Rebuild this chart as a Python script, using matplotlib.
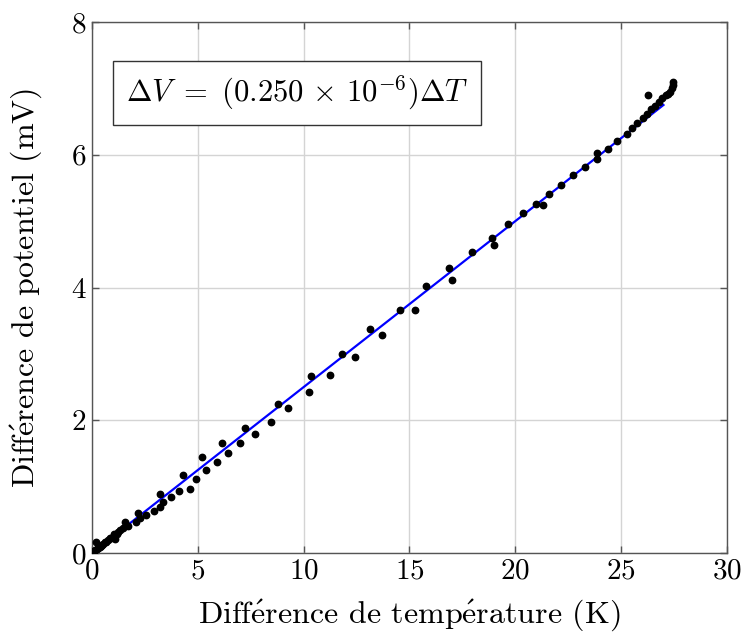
import numpy as np
import matplotlib
matplotlib.use("Agg")
import matplotlib.pyplot as plt

plt.rcParams['font.family'] = ['cmr10', 'DejaVu Serif']
plt.rcParams['mathtext.fontset'] = 'cm'
plt.rcParams['axes.formatter.use_mathtext'] = True

# measured points (K, mV)
delta_t = [0.00, 0.03, 0.06, 0.10, 0.15, 0.19, 0.22, 0.26, 0.30, 0.36, 0.42, 0.46,
           0.52, 0.61, 0.68, 0.75, 0.85, 0.92, 1.04, 1.09, 1.16, 1.24, 1.34, 1.48,
           1.54, 1.71, 2.06, 2.16, 2.28, 2.54, 2.93, 3.20, 3.20, 3.35, 3.72, 4.10,
           4.28, 4.61, 4.90, 5.20, 5.37, 5.89, 6.12, 6.44, 7.01, 7.23, 7.72, 8.44,
           8.77, 9.27, 10.25, 10.34, 11.24, 11.79, 12.41, 13.12, 13.70, 14.53,
           15.24, 15.78, 16.88, 17.01, 17.95, 18.88, 19.00, 19.67, 20.37, 20.97,
           21.30, 21.59, 22.17, 22.74, 23.27, 23.84, 23.87, 24.37, 24.80, 25.26,
           25.51, 25.73, 26.01, 26.20, 26.25, 26.39, 26.59, 26.78, 26.95, 27.11,
           27.22, 27.30, 27.38, 27.43, 27.46]
delta_v = [0.00, 0.01, 0.02, 0.03, 0.04, 0.16, 0.06, 0.07, 0.08, 0.09, 0.10, 0.12,
           0.13, 0.16, 0.17, 0.19, 0.22, 0.23, 0.28, 0.21, 0.29, 0.32, 0.34, 0.37,
           0.46, 0.40, 0.47, 0.61, 0.53, 0.58, 0.64, 0.89, 0.70, 0.77, 0.85, 0.94,
           1.17, 0.97, 1.12, 1.45, 1.25, 1.37, 1.65, 1.51, 1.65, 1.88, 1.80, 1.98,
           2.24, 2.19, 2.43, 2.66, 2.68, 3.00, 2.95, 3.37, 3.28, 3.66,
           3.66, 4.02, 4.30, 4.12, 4.53, 4.75, 4.64, 4.96, 5.12, 5.26,
           5.24, 5.41, 5.54, 5.69, 5.81, 5.94, 6.02, 6.08, 6.21, 6.32,
           6.40, 6.48, 6.55, 6.62, 6.90, 6.69, 6.73, 6.80, 6.86, 6.90,
           6.92, 6.95, 7.00, 7.05, 7.10]

slope = 0.250  # mV/K
fit_t = np.array([0, 27])
fit_v = slope * fit_t

fig = plt.figure(figsize=(7.45, 6.36), dpi=100)
ax = fig.add_axes([0.1235, 0.1305, 0.8523, 0.8349])

ax.plot(delta_t, delta_v, 'o', color='black', markersize=4.6, zorder=3)
ax.plot(fit_t, fit_v, color='blue', linewidth=1.6, zorder=2)

ax.set_xlim(0, 30)
ax.set_ylim(0, 8)
ax.set_xticks([0, 5, 10, 15, 20, 25, 30])
ax.set_yticks([0, 2, 4, 6, 8])
ax.grid(True, color='#d4d4d4', linewidth=1.0)
ax.set_axisbelow(True)
ax.tick_params(direction='in', length=5, width=1, color='#555555',
               top=True, right=True, labelsize=21, pad=4)
for s in ax.spines.values():
    s.set_color('#555555')
    s.set_linewidth(1.0)

e_acc = r'$\mathrm{\acute{e}}$'
ax.set_xlabel('Diff' + e_acc + 'rence de temp' + e_acc + 'rature (K)',
              fontsize=23, labelpad=9)
ax.set_ylabel('Diff' + e_acc + 'rence de potentiel (mV)', fontsize=23, labelpad=19)

ax.text(0.053, 0.866, r'$\Delta V\ =\ (0.250\,\times\,10^{-6})\Delta T$',
        transform=ax.transAxes, fontsize=22, va='center', ha='left',
        bbox=dict(boxstyle='square,pad=0.42', facecolor='white',
                  edgecolor='#333333', linewidth=1.0))

fig.savefig('out.png', dpi=100)
